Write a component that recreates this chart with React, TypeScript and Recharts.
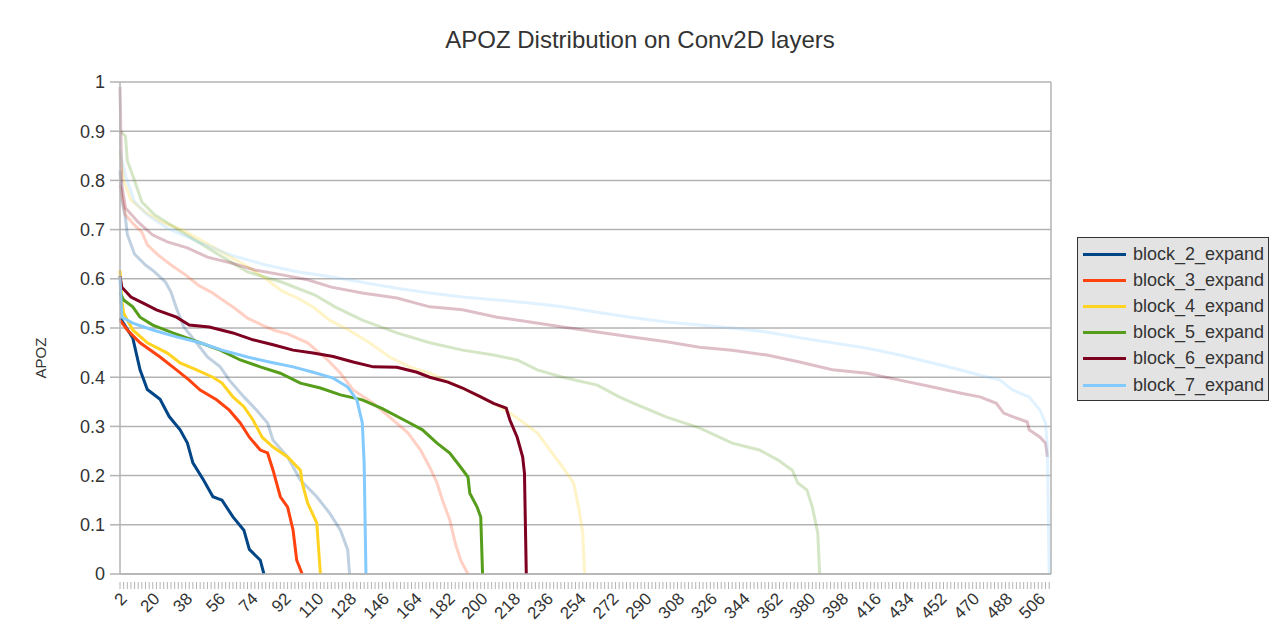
import React from "react";
import { LineChart, Line, XAxis, YAxis, CartesianGrid, ReferenceLine } from "recharts";

// category axis = spreadsheet rows 2..513
const FIRST_ROW = 2;
const LAST_ROW = 513;
const LABEL_STEP = 18;

const yTicks = [0, 0.1, 0.2, 0.3, 0.4, 0.5, 0.6, 0.7, 0.8, 0.9, 1];

const seriesNames = [
  "block_2_expand",
  "block_3_expand",
  "block_4_expand",
  "block_5_expand",
  "block_6_expand",
  "block_7_expand",
];
const seriesColors = ["#004586", "#ff420e", "#ffd320", "#579d1c", "#7e0021", "#83caff"];

// [row, apoz] pairs
const block2: [number, number][] = [
  [2, 0.52], [3, 0.515], [9, 0.48], [13, 0.415], [17, 0.375], [24, 0.355], [29, 0.32],
  [35, 0.293], [39, 0.266], [42, 0.226], [48, 0.19], [53, 0.157], [58, 0.15], [64, 0.116],
  [70, 0.089], [73, 0.05], [79, 0.028], [81, 0],
];
const block3: [number, number][] = [
  [2, 0.516], [6, 0.496], [13, 0.47], [24, 0.441], [33, 0.415], [40, 0.394], [46, 0.374],
  [55, 0.354], [62, 0.333], [68, 0.307], [73, 0.278], [79, 0.252], [83, 0.246], [86, 0.211],
  [90, 0.157], [94, 0.136], [97, 0.089], [99, 0.028], [102, 0],
];
const block4: [number, number][] = [
  [2, 0.617], [3, 0.557], [4, 0.53], [9, 0.496], [17, 0.47], [28, 0.449], [35, 0.429],
  [44, 0.415], [53, 0.4], [58, 0.388], [64, 0.36], [70, 0.34], [75, 0.313], [80, 0.278],
  [86, 0.258], [94, 0.238], [101, 0.211], [102, 0.185], [105, 0.144], [110, 0.104],
  [112, 0.063], [112, 0],
];
const block5: [number, number][] = [
  [2, 0.571], [4, 0.557], [9, 0.543], [13, 0.522], [20, 0.506], [31, 0.49], [46, 0.47],
  [57, 0.455], [68, 0.435], [79, 0.421], [90, 0.408], [101, 0.388], [112, 0.378],
  [123, 0.364], [135, 0.354], [146, 0.336], [160, 0.309], [168, 0.293], [176, 0.266],
  [183, 0.246], [189, 0.217], [193, 0.197], [194, 0.164], [198, 0.136], [200, 0.116], [201, 0],
];
const block6: [number, number][] = [
  [2, 0.605], [3, 0.583], [8, 0.563], [15, 0.55], [22, 0.537], [33, 0.522], [40, 0.506],
  [51, 0.502], [64, 0.49], [75, 0.476], [86, 0.466], [97, 0.455], [108, 0.449], [119, 0.442],
  [130, 0.431], [141, 0.421], [154, 0.42], [165, 0.41], [172, 0.4], [182, 0.39], [190, 0.378],
  [200, 0.36], [207, 0.347], [214, 0.337], [216, 0.313], [220, 0.278], [223, 0.238],
  [224, 0.205], [225, 0],
];
const block7: [number, number][] = [
  [2, 0.604], [3, 0.522], [9, 0.51], [20, 0.496], [33, 0.482], [46, 0.47], [58, 0.455],
  [72, 0.441], [84, 0.431], [97, 0.421], [108, 0.41], [119, 0.398], [127, 0.38], [132, 0.354],
  [135, 0.307], [136, 0.226], [137, 0],
];

// the faint series drawn behind, same palette
const fade2: [number, number][] = [
  [2, 0.82], [3, 0.76], [5, 0.724], [6, 0.69], [10, 0.65], [16, 0.628], [21, 0.614],
  [27, 0.593], [30, 0.573], [33, 0.54], [37, 0.502], [44, 0.47], [50, 0.441], [57, 0.421],
  [62, 0.394], [70, 0.36], [77, 0.333], [83, 0.307], [86, 0.272], [94, 0.238], [101, 0.191],
  [110, 0.157], [117, 0.124], [123, 0.089], [127, 0.049], [128, 0],
];
const fade3: [number, number][] = [
  [2, 0.79], [5, 0.73], [10, 0.709], [14, 0.695], [17, 0.669], [23, 0.648], [30, 0.628],
  [38, 0.608], [45, 0.587], [52, 0.573], [60, 0.553], [65, 0.54], [72, 0.52], [80, 0.506],
  [87, 0.495], [94, 0.488], [105, 0.47], [116, 0.435], [123, 0.408], [130, 0.374],
  [141, 0.347], [150, 0.319], [160, 0.287], [167, 0.252], [172, 0.217], [176, 0.185],
  [179, 0.15], [183, 0.11], [186, 0.063], [189, 0.028], [193, 0],
];
const fade4: [number, number][] = [
  [2, 0.86], [4, 0.8], [8, 0.76], [16, 0.735], [25, 0.715], [36, 0.7], [48, 0.675],
  [60, 0.65], [72, 0.625], [82, 0.6], [91, 0.575], [100, 0.56], [109, 0.54], [117, 0.516],
  [128, 0.495], [139, 0.47], [150, 0.441], [161, 0.421], [172, 0.408], [183, 0.39],
  [194, 0.37], [207, 0.347], [216, 0.327], [223, 0.309], [231, 0.287], [238, 0.252],
  [245, 0.217], [251, 0.185], [254, 0.13], [256, 0.083], [257, 0],
];
const fade5: [number, number][] = [
  [2, 0.9], [5, 0.89], [6, 0.84], [9, 0.81], [14, 0.756], [21, 0.73], [36, 0.695],
  [54, 0.654], [72, 0.614], [91, 0.593], [109, 0.567], [120, 0.543], [135, 0.516],
  [154, 0.49], [172, 0.47], [190, 0.455], [207, 0.445], [220, 0.435], [231, 0.415],
  [245, 0.4], [264, 0.384], [276, 0.36], [284, 0.347], [302, 0.319], [320, 0.297],
  [338, 0.266], [353, 0.252], [363, 0.232], [371, 0.211], [374, 0.185], [379, 0.171],
  [382, 0.136], [385, 0.083], [386, 0],
];
const fade6: [number, number][] = [
  [2, 0.99], [3, 0.79], [5, 0.744], [12, 0.715], [20, 0.689], [28, 0.675], [39, 0.663],
  [50, 0.644], [63, 0.632], [76, 0.618], [91, 0.608], [105, 0.598], [118, 0.583],
  [135, 0.571], [154, 0.561], [172, 0.543], [190, 0.537], [209, 0.522], [227, 0.512],
  [245, 0.502], [264, 0.492], [282, 0.482], [302, 0.472], [320, 0.461], [338, 0.455],
  [357, 0.445], [375, 0.431], [393, 0.415], [412, 0.408], [430, 0.394], [448, 0.38],
  [463, 0.368], [474, 0.36], [483, 0.347], [487, 0.327], [494, 0.317], [500, 0.309],
  [501, 0.293], [507, 0.278], [510, 0.266], [511, 0.238],
];
const fade7: [number, number][] = [
  [2, 0.86], [5, 0.81], [10, 0.756], [17, 0.73], [28, 0.703], [45, 0.675], [63, 0.648],
  [82, 0.628], [100, 0.614], [118, 0.604], [135, 0.593], [154, 0.581], [172, 0.571],
  [190, 0.563], [209, 0.557], [227, 0.551], [245, 0.543], [264, 0.532], [282, 0.522],
  [302, 0.512], [320, 0.506], [338, 0.5], [357, 0.492], [375, 0.48], [393, 0.47],
  [412, 0.459], [430, 0.445], [448, 0.429], [463, 0.415], [474, 0.404], [485, 0.394],
  [492, 0.374], [501, 0.36], [507, 0.333], [510, 0.307], [511, 0.258], [512, 0],
];

const solidSeries = [block2, block3, block4, block5, block6, block7];
const fadedSeries = [fade2, fade3, fade4, fade5, fade6, fade7];

const rows: Record<string, number | undefined>[] = [];
for (let r = FIRST_ROW; r <= LAST_ROW; r++) rows.push({ row: r });
const put = (key: string, pts: [number, number][]) => {
  pts.forEach(([r, v]) => {
    rows[r - FIRST_ROW][key] = v;
  });
};
solidSeries.forEach((pts, i) => put("s" + i, pts));
fadedSeries.forEach((pts, i) => put("f" + i, pts));

const FONT = "'Liberation Sans', Arial, sans-serif";
const TEXT = "#333333";
const GRID = "#b3b3b3";

// with tickSize 0 recharts hands the tick y = axis + 2
function XTick(props: any) {
  const { x, y, payload } = props;
  const v = Number(payload.value);
  const axisY = y - 2;
  const mark = (v - FIRST_ROW) % 2 === 0 ? (
    <line x1={x} x2={x} y1={axisY} y2={axisY + 7} stroke={GRID} strokeWidth={1} />
  ) : null;
  if ((v - FIRST_ROW) % LABEL_STEP !== 0) return <g>{mark}</g>;
  const lx = x + 4;
  const ly = axisY + 14;
  return (
    <g>
      {mark}
      <text
        x={lx}
        y={ly}
        transform={`rotate(-45 ${lx} ${ly})`}
        textAnchor="end"
        dominantBaseline="central"
        fontSize={17}
        fontFamily={FONT}
        fill={TEXT}
      >
        {v}
      </text>
    </g>
  );
}

export default function App() {
  return (
    <div style={{ position: "relative", width: 1280, height: 641, background: "#fff", fontFamily: FONT }}>
      <style>{`body{margin:0}`}</style>
      <div
        style={{
          position: "absolute",
          left: 0,
          width: 1280,
          top: 26,
          textAlign: "center",
          fontSize: 24,
          color: TEXT,
          lineHeight: "28px",
        }}
      >
        APOZ Distribution on Conv2D layers
      </div>
      <div
        style={{
          position: "absolute",
          left: 40,
          top: 358,
          transform: "translate(-50%, -50%) rotate(-90deg)",
          fontSize: 15,
          color: TEXT,
          whiteSpace: "nowrap",
        }}
      >
        APOZ
      </div>
      <LineChart width={1280} height={641} data={rows} margin={{ top: 82, right: 229, bottom: 0, left: 0 }}>
        <CartesianGrid vertical={false} stroke={GRID} strokeWidth={1.5} />
        <XAxis
          dataKey="row"
          interval={0}
          height={67}
          tick={<XTick />}
          tickSize={0}
          tickMargin={10}
          tickLine={false}
          axisLine={{ stroke: GRID, strokeWidth: 1.5 }}
          padding={{ left: 0, right: 0 }}
        />
        <YAxis
          width={120}
          domain={[0, 1]}
          ticks={yTicks}
          tickFormatter={(v: number) => String(Number(v.toFixed(1)))}
          tick={{ fontSize: 18, fill: TEXT, fontFamily: FONT }}
          tickSize={10}
          tickMargin={5}
          tickLine={{ stroke: GRID, strokeWidth: 1.5 }}
          axisLine={{ stroke: GRID, strokeWidth: 1.5 }}
        />
        <ReferenceLine x={LAST_ROW} stroke={GRID} strokeWidth={1.5} />
        {fadedSeries.map((_, i) => (
          <Line
            key={"f" + i}
            dataKey={"f" + i}
            stroke={seriesColors[i]}
            strokeOpacity={0.25}
            strokeWidth={3}
            dot={false}
            connectNulls
            legendType="none"
            isAnimationActive={false}
          />
        ))}
        {solidSeries.map((_, i) => (
          <Line
            key={"s" + i}
            dataKey={"s" + i}
            name={seriesNames[i]}
            stroke={seriesColors[i]}
            strokeWidth={3}
            dot={false}
            connectNulls
            isAnimationActive={false}
          />
        ))}
      </LineChart>
      <div
        style={{
          position: "absolute",
          left: 1077,
          top: 237,
          width: 192,
          height: 164,
          background: "#e3e3e3",
          border: "1px solid #333",
          boxSizing: "border-box",
          paddingTop: 3,
        }}
      >
        {seriesNames.map((name, i) => (
          <div key={name} style={{ display: "flex", alignItems: "center", height: 26.2 }}>
            <div style={{ width: 43, height: 3, background: seriesColors[i], marginLeft: 5, marginRight: 7 }} />
            <span style={{ fontSize: 18, color: TEXT }}>{name}</span>
          </div>
        ))}
      </div>
    </div>
  );
}
